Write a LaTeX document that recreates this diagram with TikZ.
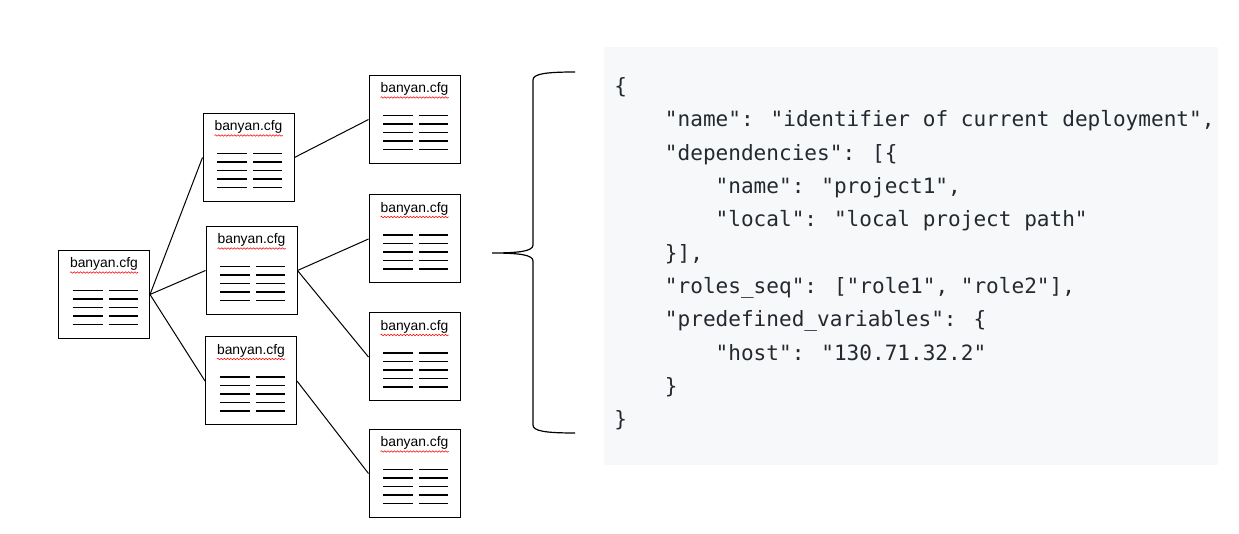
\documentclass[tikz,border=0pt]{standalone}
\usepackage{fontspec}
\usetikzlibrary{decorations.pathmorphing}
\newfontfamily\cfgfont{Liberation Sans}
\newfontfamily\codefont{DejaVu Sans Mono}
\definecolor{codebg}{RGB}{246,248,250}
\definecolor{codefg}{RGB}{36,41,47}

\tikzset{
  pics/cfgfile/.style={code={
    \node [draw, line width=0.75pt, minimum width=68.25pt, minimum height=66pt, inner sep=0pt] (-box) at (0,0) {};
    \node [anchor=base, inner sep=0pt, font=\cfgfont\fontsize{10.4}{12}\selectfont] (-name) at (0,26.5) {banyan.cfg};
    \draw [red, line width=0.4pt, decorate, decoration={snake, amplitude=0.55pt, segment length=2.4pt}] (-34,22) -- (34,22);
    \draw [line width=0.9pt] (-31.5,4) -- (-1.5,4) (4.5,4) -- (33.5,4)
      (-31.5,-4.5) -- (-1.5,-4.5) (4.5,-4.5) -- (33.5,-4.5)
      (-31.5,-13) -- (-1.5,-13) (4.5,-13) -- (33.5,-13)
      (-31.5,-21.5) -- (-1.5,-21.5) (4.5,-21.5) -- (33.5,-21.5)
      (-31.5,-30) -- (-1.5,-30) (4.5,-30) -- (33.5,-30);
  }},
  codeline/.style={anchor=base west, inner sep=0pt, text=codefg, font=\codefont\fontsize{15.8}{19}\selectfont}
}

\begin{document}
\begin{tikzpicture}[x=0.75pt,y=0.75pt,yscale=-1,xscale=1]
\useasboundingbox (0,0) rectangle (1239,534);

%Shape: Rectangle (code background)
\fill [codebg] (604,47) rectangle (1218,465);

%Shape: cfg files
\pic (root) at (104,294.5) {cfgfile};
\pic (mid1) at (248.5,157.5) {cfgfile};
\pic (mid2) at (251.5,270.5) {cfgfile};
\pic (mid3) at (251,381) {cfgfile};
\pic (leaf1) at (414.5,119.5) {cfgfile};
\pic (leaf2) at (414.5,239) {cfgfile};
\pic (leaf3) at (414.5,357) {cfgfile};
\pic (leaf4) at (414.5,473.5) {cfgfile};

%Straight Lines
\draw [line width=0.75pt] (root-box.east) -- (mid1-box.west);
\draw [line width=0.75pt] (root-box.east) -- (mid2-box.west);
\draw [line width=0.75pt] (root-box.east) -- (mid3-box.west);
\draw [line width=0.75pt] (mid1-box.east) -- (leaf1-box.west);
\draw [line width=0.75pt] (mid2-box.east) -- (leaf2-box.west);
\draw [line width=0.75pt] (mid2-box.east) -- (leaf3-box.west);
\draw [line width=0.75pt] (mid3-box.east) -- (leaf4-box.west);

%Shape: Brace
\draw [line width=0.9pt] (575,72) .. controls (545,72) and (533,74) .. (533,80) -- (533,245) .. controls (533,251) and (520,253) .. (492,253) .. controls (520,253) and (533,255) .. (533,261) -- (533,425) .. controls (533,431) and (545,433) .. (575,433);

% Text Node
\node [codeline] (code1) at (614,93.7) {\{};
% Text Node
\node [codeline] (code2) at (664.7,127) {"name": "identifier of current deployment",};
% Text Node
\node [codeline] (code3) at (664.7,160.4) {"dependencies": [\{};
% Text Node
\node [codeline] (code4) at (715.4,193.7) {"name": "project1",};
% Text Node
\node [codeline] (code5) at (715.4,227) {"local": "local project path"};
% Text Node
\node [codeline] (code6) at (664.7,260.4) {\}],};
% Text Node
\node [codeline] (code7) at (664.7,293.7) {"roles\_seq": ["role1", "role2"],};
% Text Node
\node [codeline] (code8) at (664.7,327) {"predefined\_variables": \{};
% Text Node
\node [codeline] (code9) at (715.4,360.4) {"host": "130.71.32.2"};
% Text Node
\node [codeline] (code10) at (664.7,393.7) {\}};
% Text Node
\node [codeline] (code11) at (614,427) {\}};

\end{tikzpicture}
\end{document}
